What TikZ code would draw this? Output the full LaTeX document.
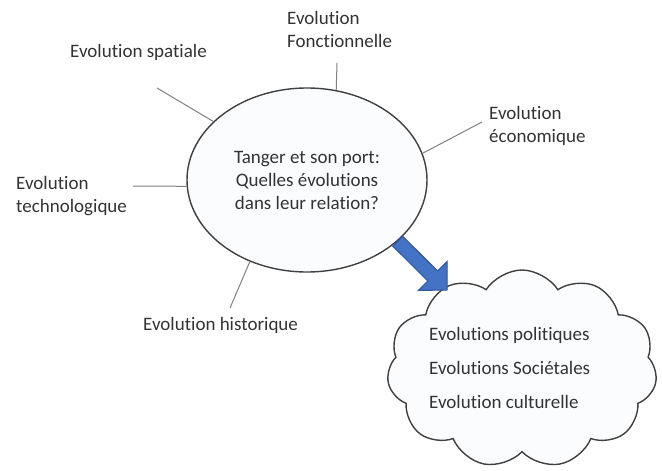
\documentclass[tikz,border=0pt]{standalone}
\usepackage{fontspec}
\setmainfont{Carlito}[Ligatures=NoCommon]
\usetikzlibrary{calc,shapes.geometric,shapes.symbols}
\definecolor{arrowfill}{HTML}{4472C4}
\definecolor{arrowline}{HTML}{2F5597}
\definecolor{shapefill}{HTML}{FAFCFE}
\definecolor{shapeline}{HTML}{404040}
\begin{document}
\begin{tikzpicture}[x=1pt,y=-1pt,font=\fontsize{19}{23}\selectfont,
  label/.style={align=left,inner sep=0pt,text=black!80},
  spoke/.style={gray,line width=1pt},
  centre/.style={ellipse,draw=shapeline,fill=shapefill,line width=1.4pt,minimum width=240pt,minimum height=184pt,inner sep=0pt,align=center,text=black!80},
  bulle/.style={cloud,cloud puffs=11,cloud puff arc=115,draw=shapeline,fill=shapefill,line width=1.4pt,minimum width=270pt,minimum height=198pt,inner sep=0pt},
  bigarrow/.style={fill=arrowfill,draw=arrowline,line width=1pt,line join=miter}]
\useasboundingbox (0,0) rectangle (662,471);
\node[centre] (c) at (307,180) {Tanger et son port:\\Quelles évolutions\\dans leur relation?};
% labels round the ellipse
\node[label,anchor=west] (fonc) at (287,29) {Evolution\\Fonctionnelle};
\node[label,anchor=west] (spat) at (70,52) {Evolution spatiale};
\node[label,anchor=west] (econ) at (489,126) {Evolution\\économique};
\node[label,anchor=west] (tech) at (16,196) {Evolution\\technologique};
\node[label,anchor=west] (hist) at (143,325) {Evolution historique};
\coordinate (foncE) at (337,63);
\coordinate (spatE) at (157,88);
\coordinate (econE) at (482,122);
\coordinate (techE) at (133,186);
\coordinate (histE) at (230,308);
\draw[spoke] (c.72) -- (foncE);
\draw[spoke] (c.148) -- (spatE);
\draw[spoke] (c.13) -- (econE);
\draw[spoke] (c.183) -- (techE);
\draw[spoke] (c.235) -- (histE);
% cloud
\node[bulle] (cl) at (522,369) {};
\node[label,anchor=west,font=\fontsize{19}{34}\selectfont] (cltxt) at (429,368)
  {Evolutions politiques\\Evolutions Sociétales\\Evolution culturelle};
% block arrow
\coordinate (arrS) at (c.-34);
\coordinate (arrT) at (447,290);
\coordinate (arrB) at ($(arrT)!20pt!(arrS)$);
\draw[bigarrow] ($(arrS)!7pt!90:(arrT)$) -- ($(arrB)!7pt!90:(arrT)$) -- ($(arrB)!20.5pt!90:(arrT)$)
  -- (arrT) -- ($(arrB)!20.5pt!-90:(arrT)$) -- ($(arrB)!7pt!-90:(arrT)$) -- ($(arrS)!7pt!-90:(arrT)$) -- cycle;
\end{tikzpicture}
\end{document}
